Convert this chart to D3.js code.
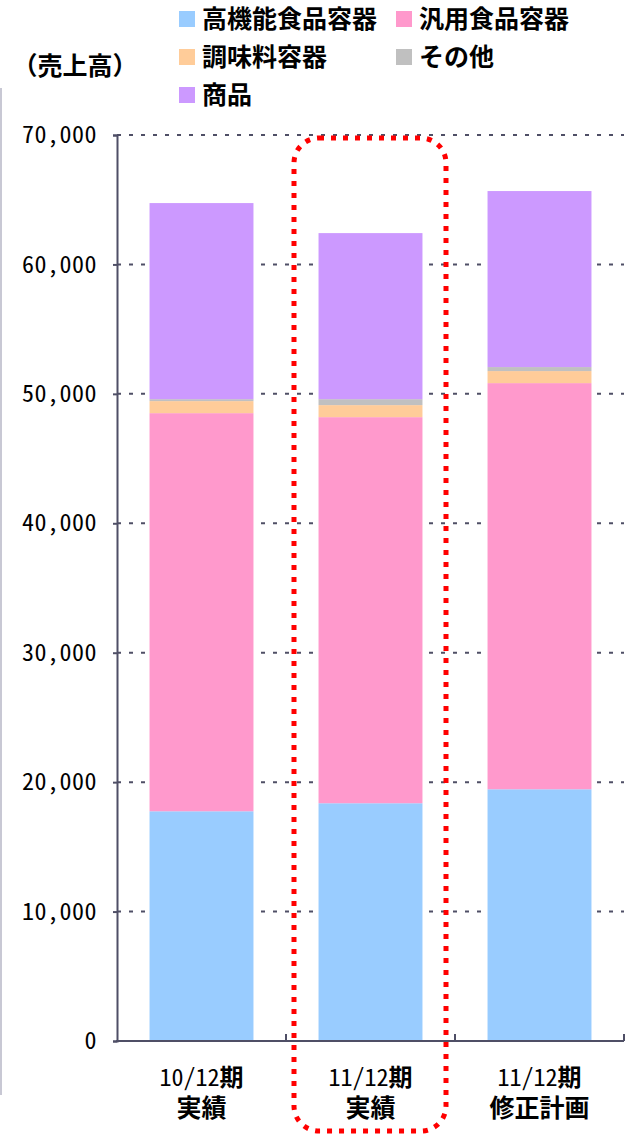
<!DOCTYPE html>
<html>
<head>
<meta charset="utf-8">
<script src="https://cdn.jsdelivr.net/npm/d3@7"></script>
<style>
  html, body { margin: 0; padding: 0; background: #fff; }
  svg { display: block; }
  .hw { font-feature-settings: "hwid" 1; }
</style>
</head>
<body>
<svg id="chart" width="625" height="1135"></svg>
<script>
// Sales by product group (stacked), units as in source report
const periods = ["10/12期|実績", "11/12期|実績", "11/12期|修正計画"];
const seriesNames = ["高機能食品容器", "汎用食品容器", "調味料容器", "その他", "商品"];
const highFunction = [17750, 18370, 19450];
const generalPurpose = [30760, 29830, 31380];
const seasoning = [930, 930, 930];
const other = [150, 460, 310];
const merchandise = [15150, 12830, 13600];
const yTicks = [0, 10000, 20000, 30000, 40000, 50000, 60000, 70000];
const colors = ["#99CCFF", "#FF99CC", "#FFCC99", "#C0C0C0", "#CC99FF"];

const seriesValues = [highFunction, generalPurpose, seasoning, other, merchandise];
const rows = periods.map((p, i) => {
  const r = { period: p };
  seriesNames.forEach((s, k) => { r[s] = seriesValues[k][i]; });
  return r;
});

const svg = d3.select("#chart");
const plotLeft = 117, plotRight = 624, plotTop = 135, plotBottom = 1041;
const axisColor = "#4f4f66";
const cjk = "'Noto Sans CJK JP', 'Noto Sans', sans-serif";

const y = d3.scaleLinear().domain([0, 70000]).range([plotBottom, plotTop]);
const x = d3.scaleBand().domain(periods).range([plotLeft, plotRight])
  .paddingInner(0.385).paddingOuter(0.1925);

// faint frame line at the far left
svg.append("line").attr("x1", 1).attr("x2", 1).attr("y1", 88).attr("y2", 1095)
  .attr("stroke", "#c8c8d4").attr("stroke-width", 2);

// dashed gridlines
svg.append("g").selectAll("line").data(yTicks.filter(d => d > 0)).join("line")
  .attr("x1", plotLeft).attr("x2", plotRight)
  .attr("y1", d => y(d)).attr("y2", d => y(d))
  .attr("stroke", axisColor).attr("stroke-width", 2)
  .attr("stroke-dasharray", "4 8");

// stacked bars
const stack = d3.stack().keys(seriesNames)(rows);
svg.append("g").selectAll("g").data(stack).join("g")
  .attr("fill", (d, i) => colors[i])
  .selectAll("rect").data(d => d).join("rect")
  .attr("x", d => x(d.data.period))
  .attr("width", x.bandwidth())
  .attr("y", d => y(d[1]))
  .attr("height", d => y(d[0]) - y(d[1]));

// y axis
const yAxis = svg.append("g").attr("transform", `translate(${plotLeft},0)`)
  .call(d3.axisLeft(y).tickValues(yTicks).tickSize(4).tickPadding(16)
    .tickFormat(d3.format(",")));
yAxis.select(".domain").attr("stroke", axisColor).attr("stroke-width", 2);
yAxis.selectAll(".tick line").attr("stroke", axisColor).attr("stroke-width", 2);
yAxis.selectAll(".tick text").attr("class", "hw").attr("font-family", cjk)
  .attr("font-size", 24).attr("letter-spacing", 0.5).attr("fill", "#000");

// x axis baseline with inner boundary ticks
svg.append("line").attr("x1", plotLeft - 1).attr("x2", plotRight)
  .attr("y1", plotBottom).attr("y2", plotBottom)
  .attr("stroke", axisColor).attr("stroke-width", 2);
const bounds = periods.map(p => x(p) - x.step() * x.paddingInner() / 2 + x.step());
svg.append("g").selectAll("line").data(bounds).join("line")
  .attr("x1", d => d).attr("x2", d => d)
  .attr("y1", plotBottom - 7).attr("y2", plotBottom)
  .attr("stroke", axisColor).attr("stroke-width", 2);

// category labels (two lines)
const labels = svg.append("g").selectAll("g").data(periods).join("g")
  .attr("transform", d => `translate(${x(d) + x.bandwidth() / 2},0)`);
labels.append("text").attr("class", "hw").attr("y", 1086).attr("text-anchor", "middle")
  .attr("font-family", cjk).attr("font-size", 24).attr("fill", "#000")
  .each(function (d) {
    const first = d.split("|")[0];
    const t = d3.select(this);
    t.append("tspan").text(first.replace("期", ""));
    t.append("tspan").attr("font-weight", "bold").text("期");
  });
labels.append("text").attr("y", 1117).attr("text-anchor", "middle")
  .attr("font-family", cjk).attr("font-weight", "bold").attr("font-size", 25)
  .attr("fill", "#000").text(d => d.split("|")[1]);

// highlight around the current-period column
svg.append("rect").attr("x", 294).attr("y", 138).attr("width", 152).attr("height", 993)
  .attr("rx", 25).attr("ry", 25).attr("fill", "none")
  .attr("stroke", "#FF0000").attr("stroke-width", 5).attr("stroke-dasharray", "5 7");

// unit label
svg.append("text").attr("x", 75).attr("y", 66).attr("dy", "0.35em")
  .attr("text-anchor", "middle").attr("font-family", cjk).attr("font-weight", "bold")
  .attr("font-size", 25).attr("fill", "#000").text("（売上高）");

// legend
const legendPos = [[179, 19], [396, 19], [179, 57], [396, 57], [179, 95]];
const legend = svg.append("g").selectAll("g").data(seriesNames).join("g")
  .attr("transform", (d, i) => `translate(${legendPos[i][0]},${legendPos[i][1]})`);
legend.append("rect").attr("x", 0).attr("y", -8).attr("width", 16).attr("height", 16)
  .attr("fill", (d, i) => colors[i]);
legend.append("text").attr("x", 23).attr("dy", "0.36em")
  .attr("font-family", cjk).attr("font-weight", "bold").attr("font-size", 25)
  .attr("fill", "#000").text(d => d);
</script>
</body>
</html>
